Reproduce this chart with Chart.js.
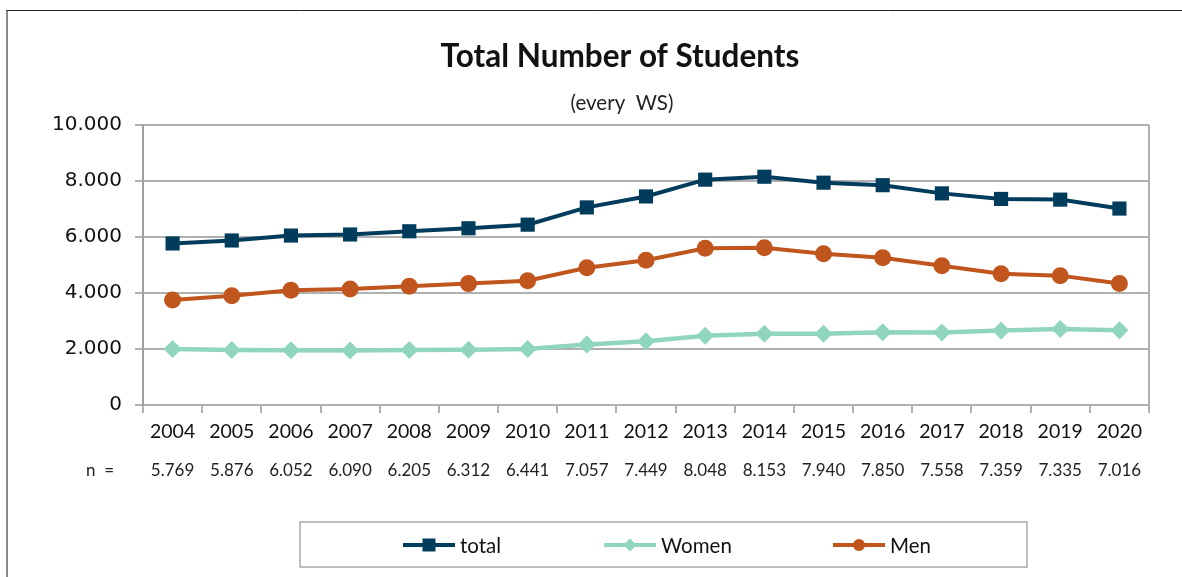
<!DOCTYPE html>
<html>
<head>
<meta charset="utf-8">
<script src="https://cdn.jsdelivr.net/npm/chart.js@4/dist/chart.umd.min.js"></script>
<style>
html, body { margin: 0; padding: 0; background: #fff; }
#wrap { width: 1182px; height: 577px; }
</style>
</head>
<body>
<div id="wrap"><canvas id="mycanvas" width="1182" height="577"></canvas></div>
<script>
// values
var years = ['2004','2005','2006','2007','2008','2009','2010','2011','2012','2013','2014','2015','2016','2017','2018','2019','2020'];
var total = [5769, 5876, 6052, 6090, 6205, 6312, 6441, 7057, 7449, 8048, 8153, 7940, 7850, 7558, 7359, 7335, 7016];
var women = [2000, 1964, 1952, 1950, 1960, 1975, 2000, 2160, 2280, 2470, 2545, 2545, 2595, 2590, 2665, 2715, 2670];
var men   = [3750, 3905, 4095, 4140, 4245, 4335, 4440, 4900, 5170, 5600, 5620, 5400, 5260, 4975, 4690, 4620, 4340];
var yTicks = [0, 2000, 4000, 6000, 8000, 10000];

var titleText = 'Total Number of Students';
var subText = '(every  WS)';

var cTotal = '#023c5c', cWomen = '#8fd6bd', cMen = '#c0561d';

function fmt(v) {
	// german thousands separator
	var s = String(v);
	if (s.length > 3) s = s.slice(0, s.length - 3) + '.' + s.slice(s.length - 3);
	return s;
}

function marker(ctx, style, x, y, r, col) {
	ctx.fillStyle = col;
	ctx.beginPath();
	if (style == 'rect') {
		ctx.rect(x - r, y - r, 2 * r, 2 * r);
	} else if (style == 'rectRot') {
		ctx.moveTo(x - r, y); ctx.lineTo(x, y - r); ctx.lineTo(x + r, y); ctx.lineTo(x, y + r); ctx.closePath();
	} else {
		ctx.arc(x, y, r, 0, Math.PI * 2);
	}
	ctx.fill();
}

var decor = {
	id: 'decor',
	beforeDraw: function(chart) {
		var ctx = chart.ctx;
		ctx.save();
		ctx.fillStyle = '#fff';
		ctx.fillRect(0, 0, chart.width, chart.height);
		// outer frame (only top and left visible)
		ctx.strokeStyle = '#8a8a8a';
		ctx.lineWidth = 2;
		ctx.beginPath(); ctx.moveTo(7, 10); ctx.lineTo(7, 577); ctx.stroke();
		ctx.strokeStyle = '#222';
		ctx.lineWidth = 1;
		ctx.beginPath(); ctx.moveTo(7, 10.5); ctx.lineTo(1182, 10.5); ctx.stroke();
		ctx.restore();
	},
	beforeDatasetsDraw: function(chart) {
		var ctx = chart.ctx, a = chart.chartArea;
		ctx.save();
		ctx.strokeStyle = '#b0b0b0';
		ctx.lineWidth = 2;
		ctx.beginPath(); ctx.moveTo(a.right, a.top); ctx.lineTo(a.right, a.bottom + 8); ctx.stroke();
		ctx.restore();
	},
	afterDraw: function(chart) {
		var ctx = chart.ctx;
		var xs = chart.scales.x;
		ctx.save();
		ctx.fillStyle = '#111';
		ctx.textAlign = 'center';
		ctx.textBaseline = 'middle';
		ctx.font = 'bold 31.5px Lato';
		ctx.fillText(titleText, 620, 57);
		ctx.font = '20.5px Lato';
		ctx.fillStyle = '#222';
		ctx.fillText(subText, 622, 103);

		// n = row
		ctx.font = '17px Lato';
		ctx.textAlign = 'left';
		ctx.fillText('n  =', 86, 471);
		ctx.textAlign = 'center';
		for (var i = 0; i < total.length; i++) {
			ctx.fillText(fmt(total[i]), xs.getPixelForValue(i), 471);
		}

		// legend box
		ctx.strokeStyle = '#a9a9a9';
		ctx.lineWidth = 1.5;
		ctx.strokeRect(300, 522, 727, 45);
		var items = [[403, 0], [604, 1], [833, 2]];
		ctx.font = '20.5px Lato';
		ctx.textAlign = 'left';
		for (var k = 0; k < items.length; k++) {
			var ds = chart.data.datasets[items[k][1]];
			var lx = items[k][0], ly = 545;
			ctx.strokeStyle = ds.borderColor;
			ctx.lineWidth = 4;
			ctx.beginPath(); ctx.moveTo(lx, ly); ctx.lineTo(lx + 52, ly); ctx.stroke();
			marker(ctx, ds.pointStyle, lx + 26, ly, ds.pointStyle == 'circle' ? 6 : 6.5, ds.borderColor);
			ctx.fillStyle = '#111';
			ctx.fillText(ds.label, lx + 57, ly + 1);
		}
		ctx.restore();
	}
};

var ctx = document.getElementById('mycanvas');

var LineGraph = new Chart(ctx, {
	type: 'line',
	data: {
		labels: years,
		datasets: [
			{
				label: 'total',
				data: total,
				borderColor: cTotal,
				backgroundColor: cTotal,
				borderWidth: 4,
				pointStyle: 'rect',
				pointRadius: 10,
				pointBorderWidth: 0,
				fill: false,
				lineTension: 0
			},
			{
				label: 'Women',
				data: women,
				borderColor: cWomen,
				backgroundColor: cWomen,
				borderWidth: 4.5,
				pointStyle: 'rectRot',
				pointRadius: 9,
				pointBorderWidth: 0,
				fill: false,
				lineTension: 0
			},
			{
				label: 'Men',
				data: men,
				borderColor: cMen,
				backgroundColor: cMen,
				borderWidth: 4,
				pointStyle: 'circle',
				pointRadius: 8.5,
				pointBorderWidth: 0,
				fill: false,
				lineTension: 0
			}
		]
	},
	options: {
		responsive: false,
		animation: false,
		events: [],
		layout: { padding: { top: 125, right: 33, left: 0, bottom: 0 } },
		plugins: {
			legend: { display: false },
			title: { display: false },
			tooltip: { enabled: false }
		},
		scales: {
			x: {
				offset: true,
				grid: { drawOnChartArea: false, drawTicks: true, tickLength: 8, offset: true, color: '#b0b0b0', lineWidth: 2 },
				border: { color: '#b0b0b0', width: 2 },
				ticks: { color: '#111', font: { family: 'Lato', size: 19.5 }, padding: 7, maxRotation: 0, autoSkip: false },
				afterFit: function(scale) { scale.height = 172; }
			},
			y: {
				min: 0,
				max: 10000,
				afterBuildTicks: function(scale) {
					scale.ticks = yTicks.map(function(v) { return { value: v }; });
				},
				grid: { color: '#b0b0b0', lineWidth: 2, tickLength: 8 },
				border: { color: '#a0a0a0', width: 2 },
				ticks: {
					color: '#111',
					font: { family: 'DejaVu Sans', size: 20 },
					padding: 13,
					callback: function(v) { return fmt(v); }
				},
				afterFit: function(scale) { scale.width = 143; }
			}
		}
	},
	plugins: [decor]
});
</script>
</body>
</html>
